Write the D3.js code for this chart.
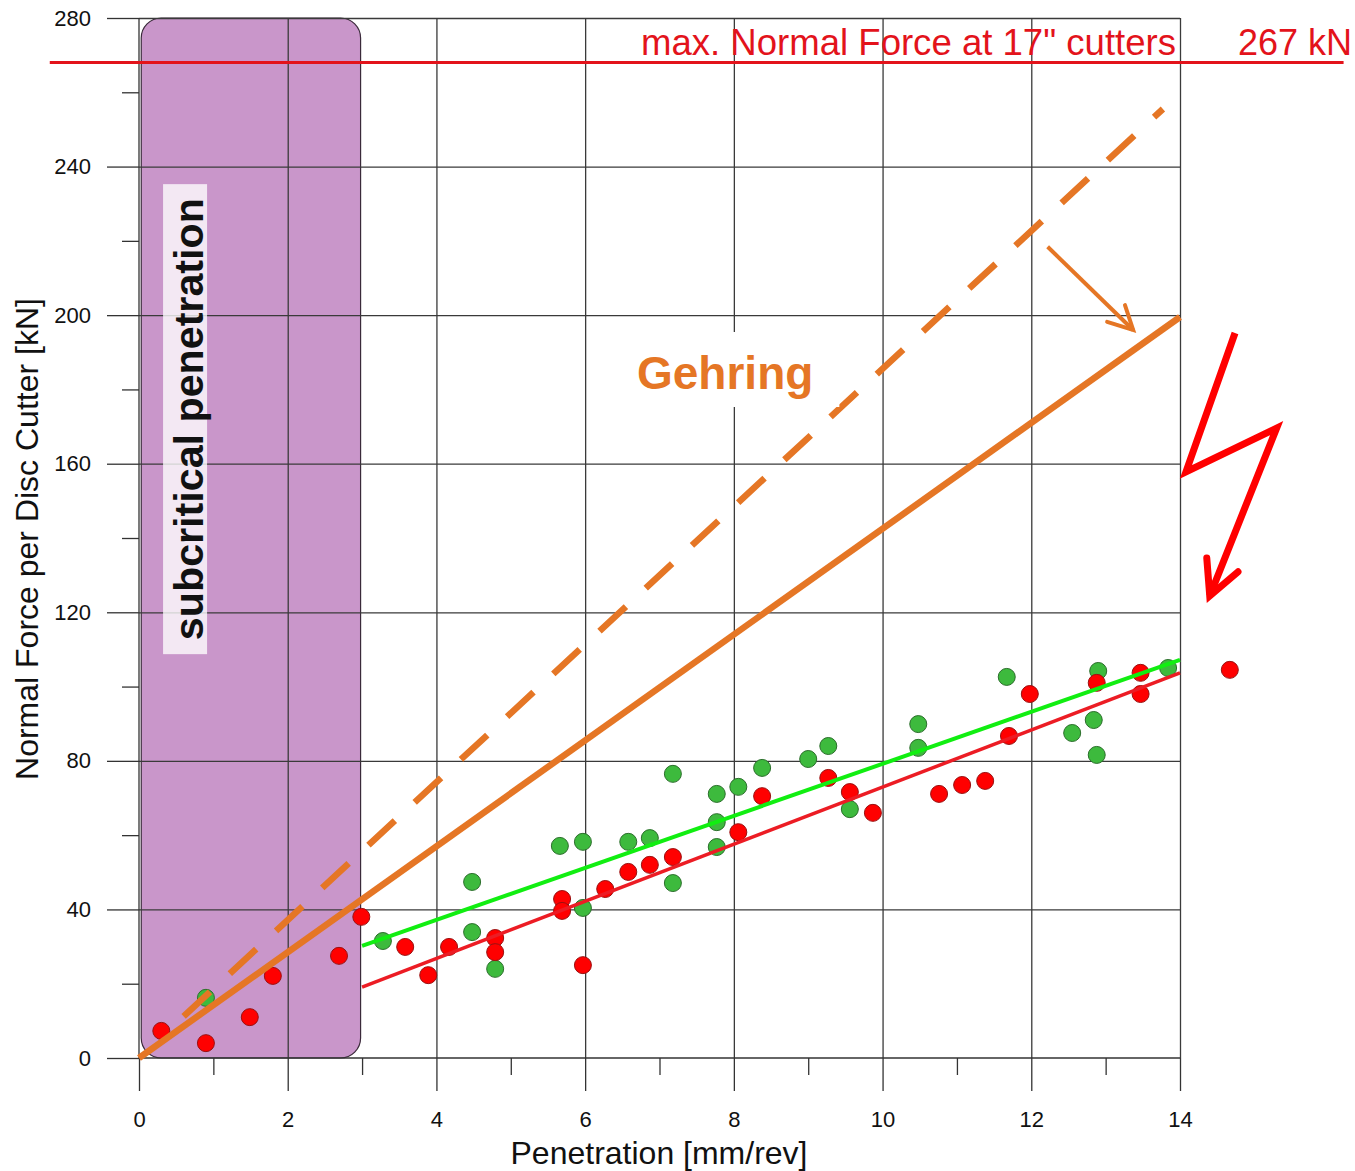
<!DOCTYPE html>
<html lang="en">
<head>
<meta charset="UTF-8">
<title>Normal Force per Disc Cutter vs Penetration</title>
<script src="https://d3js.org/d3.v7.min.js"></script>
<style>
  body { margin: 0; background: #fff; }
  svg { font-family: "Liberation Sans", Arial, sans-serif; }
  .tick text { font-size: 22px; fill: #111; }
  .tick line { stroke: #333; stroke-width: 1.3; }
  .grid .tick line { stroke: #3a3a3a; stroke-width: 1.3; }
</style>
</head>
<body>
<div id="chart"></div>
<script>
// ---- data ----
const xMajorTicks = [0, 2, 4, 6, 8, 10, 12, 14];
const xMinorTicks = [1, 3, 5, 7, 9, 11, 13];
const yMajorTicks = [0, 40, 80, 120, 160, 200, 240, 280];
const yMinorTicks = [20, 60, 100, 140, 180, 220, 260];

const redX = [0.30, 0.90, 1.49, 1.80, 2.69, 2.99, 3.58, 3.89, 4.17, 4.79, 4.79, 5.69, 5.69, 5.97, 6.27, 6.58,
              6.87, 7.18, 8.06, 8.38, 9.27, 9.56, 9.87, 10.76, 11.07, 11.38, 11.70, 11.98, 12.88, 13.47, 13.47, 14.67];
const redY = [7.3, 4.0, 11.0, 22.1, 27.5, 38.0, 29.9, 22.3, 29.9, 32.3, 28.5, 42.8, 39.6, 25.0, 45.5, 50.1,
              52.0, 54.1, 60.8, 70.5, 75.4, 71.6, 66.0, 71.1, 73.5, 74.6, 86.7, 98.0, 101.0, 103.7, 98.0, 104.5];

const greenX = [0.90, 3.28, 4.48, 4.48, 4.79, 5.66, 5.97, 5.97, 6.58, 6.87, 7.18, 7.18, 7.77, 7.77, 7.77, 8.06,
                8.38, 9.00, 9.27, 9.56, 10.48, 10.48, 11.67, 12.55, 12.84, 12.88, 12.90, 13.84];
const greenY = [16.2, 31.5, 47.4, 33.9, 24.0, 57.1, 58.2, 40.4, 58.2, 59.2, 76.5, 47.1, 71.1, 63.5, 56.8, 73.0,
                78.1, 80.5, 84.0, 67.0, 89.9, 83.5, 102.6, 87.5, 91.0, 81.6, 104.2, 105.0];

// trend lines [[x0, y0], [x1, y1]]
const greenFit = [[3, 30.2], [14, 107.2]];
const redFit = [[3, 19.1], [14, 103.7]];
const gehringSolid = [[0, 0], [14, 199.5]];
const gehringDashed = [[0.6, 11.2], [13.77, 255.5]];

const subcriticalRange = [0.03, 2.98];
const maxForce = 268;            // line position as drawn
const maxForceLabel = "267 kN";
const maxLineExtent = [-1.2, 16.2];

// annotation arrows (data units)
const orangeArrow = [[12.22, 218.4], [13.37, 196.0]];
const orangeHead = [[13.02, 198.2], [13.37, 196.0], [13.26, 202.7]];
const bolt = [[14.74, 195.2], [14.08, 157.8], [15.30, 169.6], [14.40, 124.4]];
const boltHead = [[14.36, 134.6], [14.40, 124.4], [14.78, 130.9]];

// ---- layout ----
const width = 1355, height = 1171;
const orange = "#e57625";

const x = d3.scaleLinear().domain([0, 14]).range([139, 1180]);
const y = d3.scaleLinear().domain([0, 280]).range([1058, 18]);

const svg = d3.select("#chart").append("svg")
    .attr("width", width)
    .attr("height", height);

// purple subcritical zone
svg.append("rect")
    .attr("x", x(subcriticalRange[0]))
    .attr("y", y(280))
    .attr("width", x(subcriticalRange[1]) - x(subcriticalRange[0]))
    .attr("height", y(0) - y(280))
    .attr("rx", 20)
    .attr("fill", "#c996ca")
    .attr("stroke", "#3a2a3a")
    .attr("stroke-width", 1.2);

// grid
svg.append("g")
    .attr("class", "grid")
    .attr("transform", `translate(0,${y(0)})`)
    .call(d3.axisBottom(x).tickValues(xMajorTicks.slice(1)).tickSize(-(y(0) - y(280))).tickFormat(""))
    .call(g => g.select(".domain").remove());

svg.append("g")
    .attr("class", "grid")
    .attr("transform", `translate(${x(0)},0)`)
    .call(d3.axisLeft(y).tickValues(yMajorTicks.slice(1)).tickSize(-(x(14) - x(0))).tickFormat(""))
    .call(g => g.select(".domain").remove());

// axes
svg.append("g")
    .attr("transform", `translate(0,${y(0)})`)
    .call(d3.axisBottom(x).tickValues(xMajorTicks).tickSize(33).tickPadding(20).tickSizeOuter(0))
    .call(g => g.select(".domain").remove());

svg.append("g")
    .attr("transform", `translate(0,${y(0)})`)
    .call(d3.axisBottom(x).tickValues(xMinorTicks).tickSize(17).tickFormat("").tickSizeOuter(0))
    .call(g => g.select(".domain").remove());

svg.append("g")
    .attr("transform", `translate(${x(0)},0)`)
    .call(d3.axisLeft(y).tickValues(yMajorTicks).tickSize(32).tickPadding(16).tickSizeOuter(0))
    .call(g => g.select(".domain").remove());

svg.append("g")
    .attr("transform", `translate(${x(0)},0)`)
    .call(d3.axisLeft(y).tickValues(yMinorTicks).tickSize(17).tickFormat("").tickSizeOuter(0))
    .call(g => g.select(".domain").remove());

svg.append("line")
    .attr("x1", x(0)).attr("x2", x(0))
    .attr("y1", y(280)).attr("y2", y(0))
    .attr("stroke", "#333").attr("stroke-width", 1.3);
svg.append("line")
    .attr("x1", x(0)).attr("x2", x(14))
    .attr("y1", y(0)).attr("y2", y(0))
    .attr("stroke", "#333").attr("stroke-width", 1.3);

// subcritical label
const subG = svg.append("g")
    .attr("transform", `translate(${x(0.66)},${y(172)}) rotate(-90)`);
subG.append("rect")
    .attr("x", -235).attr("y", -25)
    .attr("width", 470).attr("height", 44)
    .attr("fill", "#fff").attr("opacity", 0.78);
subG.append("text")
    .attr("text-anchor", "middle")
    .attr("y", 15)
    .attr("font-size", 40)
    .attr("font-weight", "bold")
    .attr("fill", "#111")
    .attr("textLength", 442)
    .attr("lengthAdjust", "spacingAndGlyphs")
    .text("subcritical penetration");

// axis titles
svg.append("text")
    .attr("x", 659)
    .attr("y", 1164)
    .attr("text-anchor", "middle")
    .attr("font-size", 32)
    .attr("fill", "#111")
    .text("Penetration [mm/rev]");

svg.append("text")
    .attr("transform", `translate(38,${(298 + 780) / 2}) rotate(-90)`)
    .attr("text-anchor", "middle")
    .attr("font-size", 32)
    .attr("fill", "#111")
    .text("Normal Force per Disc Cutter [kN]");

// points
svg.append("g").selectAll("circle")
    .data(d3.zip(greenX, greenY))
    .join("circle")
    .attr("cx", d => x(d[0]))
    .attr("cy", d => y(d[1]))
    .attr("r", 8.5)
    .attr("fill", "#3dba3d")
    .attr("stroke", "#2b6e2b")
    .attr("stroke-width", 1);

svg.append("g").selectAll("circle")
    .data(d3.zip(redX, redY))
    .join("circle")
    .attr("cx", d => x(d[0]))
    .attr("cy", d => y(d[1]))
    .attr("r", 8.5)
    .attr("fill", "#ff0000")
    .attr("stroke", "#9a1010")
    .attr("stroke-width", 1);

const line = d3.line().x(d => x(d[0])).y(d => y(d[1]));

svg.append("path").attr("d", line(greenFit))
    .attr("stroke", "#11ee11").attr("stroke-width", 4).attr("fill", "none");
svg.append("path").attr("d", line(redFit))
    .attr("stroke", "#ec1c24").attr("stroke-width", 3.5).attr("fill", "none");

// Gehring lines
svg.append("path").attr("d", line(gehringDashed))
    .attr("stroke", orange).attr("stroke-width", 6.5).attr("fill", "none")
    .attr("stroke-dasharray", "36 27");
svg.append("path").attr("d", line(gehringSolid))
    .attr("stroke", orange).attr("stroke-width", 6.5).attr("fill", "none");

// Gehring label
const gText = svg.append("text")
    .attr("x", 637)
    .attr("y", 389)
    .attr("font-size", 46)
    .attr("font-weight", "bold")
    .attr("fill", orange)
    .text("Gehring");
const gb = gText.node().getBBox();
svg.insert("rect", () => gText.node())
    .attr("x", gb.x - 6).attr("y", 332)
    .attr("width", gb.width + 32).attr("height", 75)
    .attr("fill", "#fff");

// orange arrow
svg.append("path").attr("d", line(orangeArrow))
    .attr("stroke", orange).attr("stroke-width", 4).attr("fill", "none");
svg.append("path").attr("d", line(orangeHead))
    .attr("stroke", orange).attr("stroke-width", 4).attr("fill", "none")
    .attr("stroke-linecap", "round");

// max normal force line
svg.append("path").attr("d", line([[maxLineExtent[0], maxForce], [maxLineExtent[1], maxForce]]))
    .attr("stroke", "#e3131b").attr("stroke-width", 3).attr("fill", "none");
svg.append("text")
    .attr("x", 1176).attr("y", 55)
    .attr("text-anchor", "end")
    .attr("font-size", 36)
    .attr("fill", "#e3131b")
    .attr("textLength", 535)
    .attr("lengthAdjust", "spacingAndGlyphs")
    .text("max. Normal Force at 17\" cutters");
svg.append("text")
    .attr("x", 1238).attr("y", 55)
    .attr("font-size", 36)
    .attr("fill", "#e3131b")
    .text(maxForceLabel);

// lightning bolt
svg.append("path").attr("d", line(bolt))
    .attr("stroke", "#ff0000").attr("stroke-width", 7).attr("fill", "none")
    .attr("stroke-linejoin", "miter");
svg.append("path").attr("d", line(boltHead))
    .attr("stroke", "#ff0000").attr("stroke-width", 7).attr("fill", "none")
    .attr("stroke-linecap", "round");
</script>
</body>
</html>
